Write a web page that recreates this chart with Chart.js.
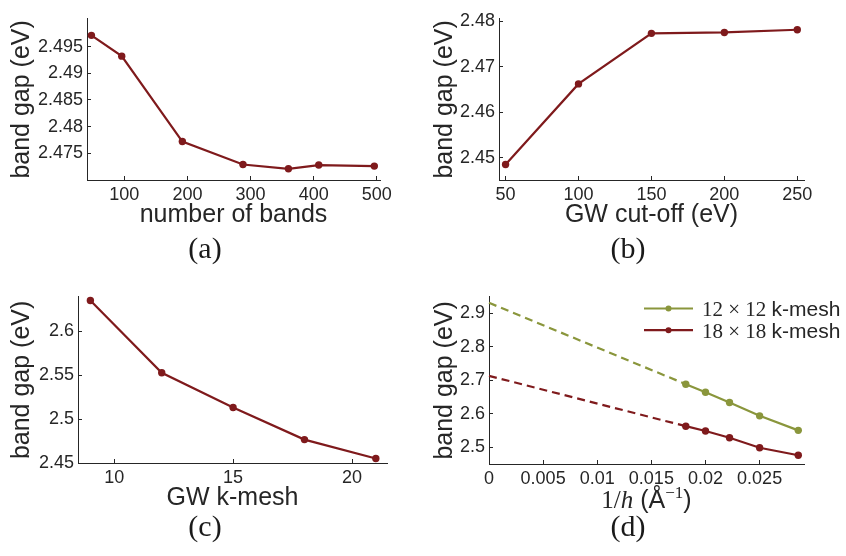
<!DOCTYPE html>
<html>
<head>
<meta charset="utf-8">
<title>Band gap convergence</title>
<script src="https://cdn.jsdelivr.net/npm/chart.js@4.4.1/dist/chart.umd.min.js"></script>
<style>
  html, body { margin: 0; padding: 0; background: #fff; }
  #figure { position: relative; width: 846px; height: 556px; }
  #figure canvas { position: absolute; }
</style>
</head>
<body>
<div id="figure">
  <canvas id="panelA" width="423" height="278" style="left:0;top:0"></canvas>
  <canvas id="panelB" width="423" height="278" style="left:423px;top:0"></canvas>
  <canvas id="panelC" width="423" height="278" style="left:0;top:278px"></canvas>
  <canvas id="panelD" width="423" height="278" style="left:423px;top:278px"></canvas>
</div>
<script>
// (a) number of bands
const bandCounts = [48, 96, 192, 288, 360, 408, 496];
const gapVsBands = [2.4971, 2.4932, 2.4772, 2.4729, 2.4721, 2.4728, 2.4726];
const bandsTicks = [100, 200, 300, 400, 500];
const bandsGapTicks = [2.475, 2.48, 2.485, 2.49, 2.495];

// (b) GW cut-off (eV)
const cutoffs = [50, 100, 150, 200, 250];
const gapVsCutoff = [2.4485, 2.4662, 2.4773, 2.4775, 2.4781];
const cutoffTicks = [50, 100, 150, 200, 250];
const cutoffGapTicks = [2.45, 2.46, 2.47, 2.48];

// (c) GW k-mesh
const kmeshSizes = [9, 12, 15, 18, 21];
const gapVsKmesh = [2.6353, 2.5529, 2.5133, 2.4767, 2.4551];
const kmeshTicks = [10, 15, 20];
const kmeshGapTicks = [2.45, 2.5, 2.55, 2.6];

// (d) 1/h with linear extrapolation to h -> infinity
const invHeight = [0.01818, 0.02, 0.02222, 0.025, 0.02857];
const gapMesh12 = [2.6887, 2.6644, 2.6337, 2.594, 2.5506];
const gapMesh18 = [2.5631, 2.5486, 2.5284, 2.4986, 2.4763];
const gapMesh12At0 = 2.932;
const gapMesh18At0 = 2.7136;
const meshLabels = ['12 × 12 k-mesh', '18 × 18 k-mesh'];
const invHeightTicks = [0, 0.005, 0.01, 0.015, 0.02, 0.025];
const vacuumGapTicks = [2.5, 2.6, 2.7, 2.8, 2.9];

const SANS = "'Liberation Sans', Arial, sans-serif";
const SERIF = "'Liberation Serif', 'Times New Roman', serif";
const INK = '#262626';
const RED = '#7f1a1c';
const OLIVE = '#8a963c';

Chart.defaults.font.family = SANS;
Chart.defaults.color = INK;

const fmt = v => String(Number(Number(v).toFixed(4)));
const pairs = (xs, ys) => xs.map((x, i) => ({ x, y: ys[i] }));

// matlab-ish axis: inward ticks, no grid, explicit tick list
function linearAxis(o) {
  const horizontal = o.pos === 'bottom';
  return {
    type: 'linear',
    position: o.pos,
    min: o.min,
    max: o.max,
    border: { color: INK, width: 1 },
    grid: { drawOnChartArea: false, drawTicks: true, tickLength: -4, color: INK, lineWidth: 1 },
    ticks: {
      font: { size: 18 }, color: INK, padding: horizontal ? 8.5 : 8,
      autoSkip: false, maxRotation: 0, callback: fmt
    },
    afterBuildTicks: s => { s.ticks = o.ticks.map(v => ({ value: v })); },
    afterFit: s => { if (horizontal) s.height = o.size; else s.width = o.size; },
    title: {
      display: !!o.title, text: o.title, color: INK, font: { size: 25 },
      padding: horizontal ? { top: 0, bottom: 2 } : { top: 7, bottom: 0 }
    }
  };
}

function series(points, color, extra) {
  return Object.assign({
    data: points,
    borderColor: color,
    backgroundColor: color,
    pointBackgroundColor: color,
    borderWidth: 2.2,
    pointRadius: 3.7,
    pointBorderWidth: 0,
    tension: 0,
    clip: 8
  }, extra || {});
}

// (a), (b)... under each panel
const panelTag = {
  id: 'panelTag',
  afterDraw(chart, args, opts) {
    const ctx = chart.ctx;
    ctx.save();
    ctx.font = `30px ${SERIF}`;
    ctx.fillStyle = '#1a1a1a';
    ctx.textAlign = 'center';
    ctx.textBaseline = 'alphabetic';
    ctx.fillText(opts.text, 205, 258);
    ctx.restore();
  }
};

// legend with serif mesh size and sans "k-mesh"
const meshLegend = {
  id: 'meshLegend',
  afterDraw(chart) {
    const ctx = chart.ctx;
    const entries = chart.data.datasets.filter(d => d.inLegend);
    ctx.save();
    entries.forEach((ds, i) => {
      const y = 30.5 + i * 21.7;
      ctx.strokeStyle = ds.borderColor;
      ctx.lineWidth = 2.2;
      ctx.beginPath();
      ctx.moveTo(221, y);
      ctx.lineTo(270, y);
      ctx.stroke();
      ctx.fillStyle = ds.borderColor;
      ctx.beginPath();
      ctx.arc(245.5, y, 3, 0, Math.PI * 2);
      ctx.fill();

      const cut = ds.label.lastIndexOf(' ');
      const dims = ds.label.slice(0, cut);
      const unit = ds.label.slice(cut + 1);
      ctx.fillStyle = INK;
      ctx.textAlign = 'left';
      ctx.textBaseline = 'alphabetic';
      ctx.font = `21px ${SERIF}`;
      ctx.fillText(dims, 279, y + 7.5);
      const w = ctx.measureText(dims + ' ').width;
      ctx.font = `21px ${SANS}`;
      ctx.fillText(unit, 279 + w, y + 7.5);
    });
    ctx.restore();
  }
};

// x title of (d): 1/h (Å^-1) with mixed fonts
const invHeightTitle = {
  id: 'invHeightTitle',
  afterDraw(chart) {
    const ctx = chart.ctx;
    const parts = [
      { text: '1/', font: `25px ${SERIF}`, dy: 0 },
      { text: 'h', font: `italic 25px ${SERIF}`, dy: 0 },
      { text: ' (Å', font: `25px ${SANS}`, dy: 0 },
      { text: '−1', font: `17px ${SERIF}`, dy: -10 },
      { text: ')', font: `25px ${SANS}`, dy: 0 }
    ];
    ctx.save();
    let total = 0;
    parts.forEach(p => { ctx.font = p.font; p.w = ctx.measureText(p.text).width; total += p.w; });
    const area = chart.chartArea;
    let x = (area.left + area.right) / 2 - total / 2;
    const base = area.bottom + 44;
    ctx.fillStyle = INK;
    ctx.textAlign = 'left';
    ctx.textBaseline = 'alphabetic';
    parts.forEach(p => {
      ctx.font = p.font;
      ctx.fillText(p.text, x, base + p.dy);
      x += p.w;
    });
    ctx.restore();
  }
};

function buildPanel(id, cfg) {
  return new Chart(document.getElementById(id), {
    type: 'line',
    data: { datasets: cfg.datasets },
    options: {
      responsive: false,
      animation: false,
      events: [],
      layout: { padding: cfg.padding },
      plugins: {
        legend: { display: false },
        tooltip: { enabled: false },
        panelTag: { text: cfg.tag }
      },
      scales: { x: linearAxis(cfg.x), y: linearAxis(cfg.y) }
    },
    plugins: [panelTag].concat(cfg.plugins || [])
  });
}

buildPanel('panelA', {
  tag: '(a)',
  padding: { left: 0, top: 8, right: 43, bottom: 46 },
  datasets: [series(pairs(bandCounts, gapVsBands), RED)],
  x: { pos: 'bottom', min: 41, max: 505, ticks: bandsTicks, size: 52, title: 'number of bands' },
  y: { pos: 'left', min: 2.470, max: 2.5002, ticks: bandsGapTicks, size: 87, title: 'band gap (eV)' }
});

buildPanel('panelB', {
  tag: '(b)',
  padding: { left: 0, top: 4, right: 42, bottom: 46 },
  datasets: [series(pairs(cutoffs, gapVsCutoff), RED)],
  x: { pos: 'bottom', min: 45.5, max: 254.6, ticks: cutoffTicks, size: 52, title: 'GW cut-off (eV)' },
  y: { pos: 'left', min: 2.4451, max: 2.4805, ticks: cutoffGapTicks, size: 76, title: 'band gap (eV)' }
});

buildPanel('panelC', {
  tag: '(c)',
  padding: { left: 0, top: 9, right: 36, bottom: 41 },
  datasets: [series(pairs(kmeshSizes, gapVsKmesh), RED)],
  x: { pos: 'bottom', min: 8.48, max: 21.47, ticks: kmeshTicks, size: 52, title: 'GW k-mesh' },
  y: { pos: 'left', min: 2.45, max: 2.6396, ticks: kmeshGapTicks, size: 78, title: 'band gap (eV)' }
});

buildPanel('panelD', {
  tag: '(d)',
  padding: { left: 0, top: 13, right: 42, bottom: 40 },
  datasets: [
    series(pairs(invHeight, gapMesh12), OLIVE, { label: meshLabels[0], inLegend: true }),
    series(pairs(invHeight, gapMesh18), RED, { label: meshLabels[1], inLegend: true }),
    series([{ x: 0, y: gapMesh12At0 }, { x: invHeight[0], y: gapMesh12[0] }], OLIVE,
      { borderDash: [8, 5], pointRadius: 0 }),
    series([{ x: 0, y: gapMesh18At0 }, { x: invHeight[0], y: gapMesh18[0] }], RED,
      { borderDash: [8, 5], pointRadius: 0 })
  ],
  x: { pos: 'bottom', min: 0, max: 0.0291, ticks: invHeightTicks, size: 52, title: '' },
  y: { pos: 'left', min: 2.45, max: 2.95, ticks: vacuumGapTicks, size: 66, title: 'band gap (eV)' },
  plugins: [meshLegend, invHeightTitle]
});
</script>
</body>
</html>
